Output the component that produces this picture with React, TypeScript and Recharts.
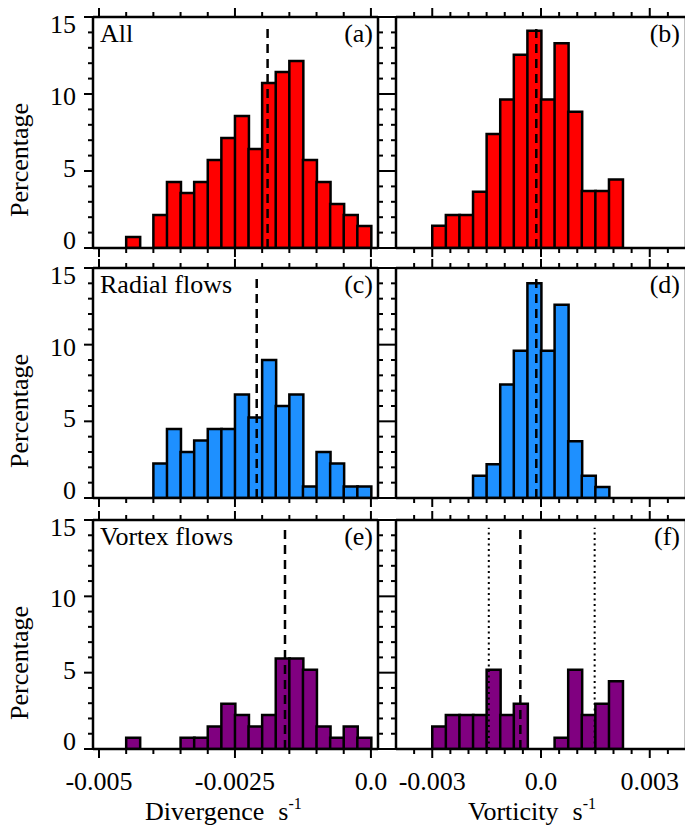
import React from 'react';
import { BarChart, Bar, XAxis, YAxis, ReferenceLine } from 'recharts';

// bin centres (divergence: 0.00025 wide, vorticity: 0.000375 wide)
const divBins = [
  -0.004375, -0.004125, -0.003875, -0.003625, -0.003375, -0.003125, -0.002875, -0.002625, -0.002375,
  -0.002125, -0.001875, -0.001625, -0.001375, -0.001125, -0.000875, -0.000625, -0.000375, -0.000125,
];
const vortBins = [
  -0.0028125, -0.0024375, -0.0020625, -0.0016875, -0.0013125, -0.0009375, -0.0005625,
  -0.0001875, 0.0001875, 0.0005625, 0.0009375, 0.0013125, 0.0016875, 0.0020625,
];

// percentages per bin
const allDiv = [0.71, 0, 2.14, 4.29, 3.57, 4.29, 5.71, 7.14, 8.57, 6.43, 10.71, 11.43, 12.14, 5.71, 4.29, 2.86, 2.14, 1.43];
const allVort = [1.45, 2.15, 2.15, 3.65, 7.4, 9.65, 12.55, 14.1, 9.65, 13.3, 8.85, 3.7, 3.7, 4.45];
const radialDiv = [0, 0, 2.25, 4.5, 3.0, 3.75, 4.5, 4.5, 6.75, 5.25, 9.0, 6.0, 6.75, 0.75, 3.0, 2.25, 0.75, 0.75];
const radialVort = [0, 0, 0, 1.45, 2.2, 7.4, 9.6, 14.0, 9.6, 12.6, 3.7, 1.45, 0.72, 0];
const vortexDiv = [0.74, 0, 0, 0, 0.74, 0.74, 1.48, 2.96, 2.22, 1.48, 2.22, 5.93, 5.93, 5.19, 1.48, 0.74, 1.48, 0.74];
const vortexVort = [1.48, 2.22, 2.22, 2.22, 5.19, 2.22, 2.96, 0, 0, 0.74, 5.19, 2.22, 2.96, 4.44];

// dashed (mean) and dotted lines
const meanAllDiv = -0.0019;
const meanAllVort = -0.00013;
const meanRadialDiv = -0.0021;
const meanRadialVort = -0.00013;
const meanVortexDiv = -0.00158;
const meanVortexVort = -0.00057;
const vortexVortSpread = [-0.00144, 0.00148];

const divTicks = [-0.005, -0.0045, -0.004, -0.0035, -0.003, -0.0025, -0.002, -0.0015, -0.001, -0.0005, 0];
const vortTicks = [
  -0.0035, -0.003, -0.0025, -0.002, -0.0015, -0.001, -0.0005, 0, 0.0005, 0.001, 0.0015, 0.002, 0.0025, 0.003, 0.0035,
];
const pctTicks = [0, 1, 2, 3, 4, 5, 6, 7, 8, 9, 10, 11, 12, 13, 14, 15];
const divLabels: [number, string][] = [[-0.005, '-0.005'], [-0.0025, '-0.0025'], [0, '0.0']];
const vortLabels: [number, string][] = [[-0.003, '-0.003'], [0, '0.0'], [0.003, '0.003']];
const pctLabels: [number, string][] = [[0, '0'], [5, '5'], [10, '10'], [15, '15']];

const rowNames = ['All', 'Radial flows', 'Vortex flows'];
const tags = ['(a)', '(b)', '(c)', '(d)', '(e)', '(f)'];

const FONT = 'Liberation Serif, Tinos, "Times New Roman", Times, "DejaVu Serif", "Noto Serif", serif';
const FS = 26;
const txt = { fontFamily: FONT, fontSize: FS, fill: '#000' };

const COLS = [
  { x0: 93, x1: 378, domain: [-0.00511, 0.00013] },
  { x0: 396, x1: 686, domain: [-0.004, 0.004] },
];
const ROWS = [
  { y0: 17, y1: 248 },
  { y0: 268, y1: 498 },
  { y0: 520, y1: 749 },
];

const near = (a: number, b: number) => Math.abs(a - b) < 1e-9;
const findLabel = (list: [number, string][], v: number) => list.find(([t]) => near(t, v));

interface PanelProps {
  col: number;
  row: number;
  bins: number[];
  values: number[];
  fill: string;
  mean: number;
  spread?: number[];
}

const Panel = ({ col, row, bins, values, fill, mean, spread }: PanelProps) => {
  const c = COLS[col];
  const r = ROWS[row];
  const ticks = col === 0 ? divTicks : vortTicks;
  const labels = col === 0 ? divLabels : vortLabels;
  const showX = row === 2;
  const showY = col === 0;
  // outer space around the frame; axes themselves take 1px each
  const ml = col === 0 ? 90 : 20;
  const mr = 20;
  const mt = 20;
  const mb = showX ? 60 : 20;
  const data = bins.map((x, i) => ({ x, v: values[i] }));
  const axisLine = { stroke: '#000', strokeWidth: 2.5 };

  const xTick = (side: 'bottom' | 'top') => (p: any) => {
    const lab = findLabel(labels, p.payload.value);
    const dir = side === 'bottom' ? 1 : -1;
    return (
      <g>
        <line x1={p.x} x2={p.x} y1={p.y} y2={p.y + dir * (lab ? 9 : 5)} stroke="#000" strokeWidth={2} />
        {side === 'bottom' && showX && lab && (
          <text x={p.x} y={p.y + 41} textAnchor="middle" style={txt}>
            {lab[1]}
          </text>
        )}
      </g>
    );
  };

  const yTick = (side: 'left' | 'right') => (p: any) => {
    const v = p.payload.value;
    const lab = findLabel(pctLabels, v);
    const dir = side === 'left' ? -1 : 1;
    return (
      <g>
        <line x1={p.x} x2={p.x + dir * (lab ? 9 : 5)} y1={p.y} y2={p.y} stroke="#000" strokeWidth={2} />
        {side === 'left' && showY && lab && (
          <text x={p.x - 17} y={p.y + 8.5 + (v - 7.5) * 0.95} textAnchor="end" style={txt}>
            {lab[1]}
          </text>
        )}
      </g>
    );
  };

  const common = {
    allowDataOverflow: true,
    interval: 0 as const,
    tickSize: 0,
    tickMargin: 0,
    tickLine: false,
    axisLine,
  };

  return (
    <div style={{ position: 'absolute', left: c.x0 - ml, top: r.y0 - mt }}>
      <BarChart
        width={c.x1 - c.x0 + ml + mr}
        height={r.y1 - r.y0 + mt + mb}
        data={data}
        margin={{ top: mt - 1, right: mr - 1, bottom: mb - 1, left: ml - 1 }}
        barCategoryGap={0}
        barGap={0}
      >
        <XAxis
          {...common}
          xAxisId="b"
          dataKey="x"
          type="number"
          domain={c.domain}
          ticks={ticks}
          height={1}
          tick={xTick('bottom')}
        />
        <XAxis
          {...common}
          xAxisId="t"
          orientation="top"
          dataKey="x"
          type="number"
          domain={c.domain}
          ticks={ticks}
          height={1}
          tick={xTick('top')}
        />
        <YAxis
          {...common}
          yAxisId="l"
          type="number"
          domain={[0, 15]}
          ticks={pctTicks}
          width={1}
          tick={yTick('left')}
        />
        <YAxis
          {...common}
          yAxisId="r"
          orientation="right"
          type="number"
          domain={[0, 15]}
          ticks={pctTicks}
          width={1}
          tick={yTick('right')}
        />
        <Bar
          xAxisId="b"
          yAxisId="l"
          dataKey="v"
          fill={fill}
          stroke="#000"
          strokeWidth={2.5}
          isAnimationActive={false}
        />
        <ReferenceLine
          xAxisId="b"
          yAxisId="l"
          segment={[{ x: mean, y: 0 }, { x: mean, y: 14.5 }]}
          stroke="#000"
          strokeWidth={2.5}
          strokeDasharray="9 6"
        />
        {(spread || []).map((s) => (
          <ReferenceLine
            key={s}
            xAxisId="b"
            yAxisId="l"
            segment={[{ x: s, y: 0 }, { x: s, y: 14.5 }]}
            stroke="#000"
            strokeWidth={2}
            strokeDasharray="2 3.5"
          />
        ))}
      </BarChart>
    </div>
  );
};

export default function App() {
  return (
    <div
      style={{
        position: 'absolute',
        left: 0,
        top: 0,
        width: 685,
        height: 825,
        overflow: 'hidden',
        background: '#fff',
        fontFamily: FONT,
      }}
    >
      <Panel col={0} row={0} bins={divBins} values={allDiv} fill="#ff0000" mean={meanAllDiv} />
      <Panel col={1} row={0} bins={vortBins} values={allVort} fill="#ff0000" mean={meanAllVort} />
      <Panel col={0} row={1} bins={divBins} values={radialDiv} fill="#1e90ff" mean={meanRadialDiv} />
      <Panel col={1} row={1} bins={vortBins} values={radialVort} fill="#1e90ff" mean={meanRadialVort} />
      <Panel col={0} row={2} bins={divBins} values={vortexDiv} fill="#800080" mean={meanVortexDiv} />
      <Panel
        col={1}
        row={2}
        bins={vortBins}
        values={vortexVort}
        fill="#800080"
        mean={meanVortexVort}
        spread={vortexVortSpread}
      />
      <svg width={685} height={825} style={{ position: 'absolute', left: 0, top: 0, pointerEvents: 'none' }}>
        {ROWS.map((r, i) => (
          <g key={i}>
            <text
              x={27.5}
              y={r.y0 + 143}
              textAnchor="middle"
              transform={`rotate(-90, 27.5, ${r.y0 + 143})`}
              style={txt}
            >
              Percentage
            </text>
            <text x={COLS[0].x0 + 7} y={r.y0 + 25} style={txt}>
              {rowNames[i]}
            </text>
            <text x={COLS[0].x1 - 5} y={r.y0 + 25} textAnchor="end" style={txt}>
              {tags[i * 2]}
            </text>
            <text x={COLS[1].x1 - 6} y={r.y0 + 25} textAnchor="end" style={txt}>
              {tags[i * 2 + 1]}
            </text>
          </g>
        ))}
        <text x={145} y={820} style={txt}>
          Divergence
          <tspan dx={14}>s</tspan>
          <tspan dy={-11} fontSize={16}>
            -1
          </tspan>
        </text>
        <text x={468} y={820} style={txt}>
          Vorticity
          <tspan dx={14}>s</tspan>
          <tspan dy={-11} fontSize={16}>
            -1
          </tspan>
        </text>
      </svg>
    </div>
  );
}
